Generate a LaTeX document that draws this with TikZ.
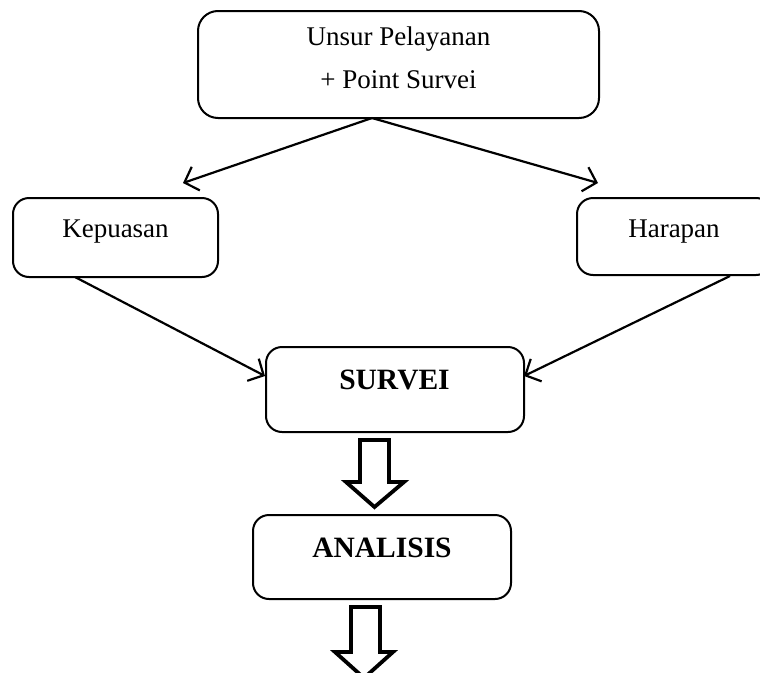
\documentclass[tikz,border=0pt]{standalone}
\usepackage{fontspec}
\setmainfont{Liberation Serif}
\usetikzlibrary{arrows.meta,calc}
\tikzset{
  rbox/.style={draw=black, line width=2pt, rounded corners=16pt, inner sep=0pt},
  lbl/.style={anchor=base, inner sep=0pt, font=\fontsize{27}{32}\selectfont},
  blbl/.style={anchor=base, inner sep=0pt, font=\fontsize{29.5}{34}\selectfont\bfseries},
  conn/.style={draw=black, line width=2.2pt, -{Straight Barb[length=12pt,width=25pt,line width=2.2pt]}},
  blockarrow/.style={draw=black, line width=3.8pt, line join=miter, fill=white}
}
\begin{document}
\begin{tikzpicture}[x=1pt,y=-1pt]
\useasboundingbox (0,0) rectangle (760,672);
\clip (0,0) rectangle (760,672);
% boxes
\node[rbox, rounded corners=20pt, minimum width=401pt, minimum height=107pt] (top) at (398.5,64.5) {};
\node[lbl] (top1) at (398.5,45) {Unsur Pelayanan};
\node[lbl] (top2) at (398.5,88) {+ Point Survei};

\node[rbox, minimum width=205pt, minimum height=79pt] (kep) at (115.5,237.5) {};
\node[lbl] (kept) at (115.5,237) {Kepuasan};

\node[rbox, minimum width=195pt, minimum height=77pt] (har) at (674.5,236.5) {};
\node[lbl] (hart) at (674,237) {Harapan};

\node[rbox, minimum width=258pt, minimum height=85pt] (sur) at (395,389.5) {};
\node[blbl] (surt) at (394.5,389) {SURVEI};

\node[rbox, minimum width=258pt, minimum height=84pt] (ana) at (382,557) {};
\node[blbl] (anat) at (382,557) {ANALISIS};

% connector coordinates
\coordinate (o) at (372,118);
\coordinate (t1) at (183,183);
\coordinate (t2) at (598,183);
\coordinate (k0) at (75,277);
\coordinate (s1) at (265,376);
\coordinate (h0) at (730,276);
\coordinate (s2) at (524,376);

\draw[conn] (o) -- (t1);
\draw[conn] (o) -- (t2);
\draw[conn] (k0) -- (s1);
\draw[conn] (h0) -- (s2);

% block arrows
\draw[blockarrow] (360,440) -- (389,440) -- (389,482) -- (404,482) -- (374.5,507) -- (346,482) -- (360,482) -- cycle;
\draw[blockarrow] (351,607) -- (380,607) -- (380,652) -- (393,652) -- (364,678) -- (335,652) -- (351,652) -- cycle;
\end{tikzpicture}
\end{document}
